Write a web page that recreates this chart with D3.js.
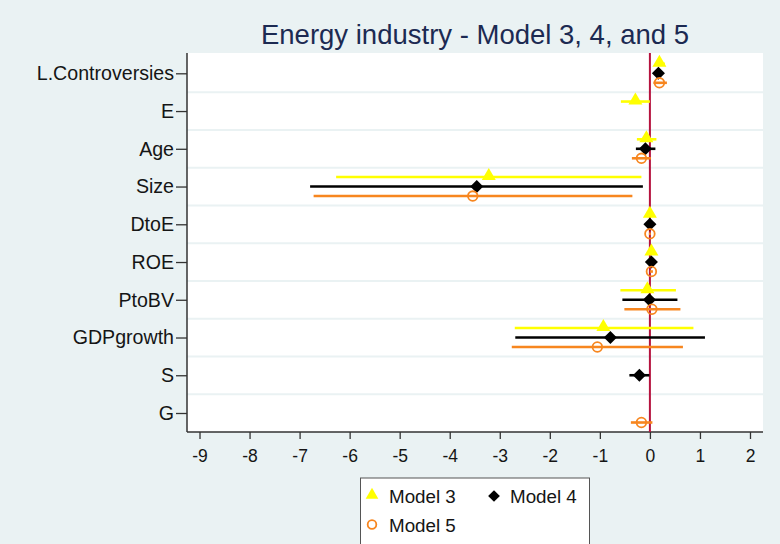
<!DOCTYPE html>
<html>
<head>
<meta charset="utf-8">
<script src="https://cdn.jsdelivr.net/npm/d3@7"></script>
<style>
  html, body { margin: 0; padding: 0; background: #eaf2f3; }
  svg { display: block; font-family: "Liberation Sans", Arial, sans-serif; }
</style>
</head>
<body>
<svg id="chart" width="780" height="544"></svg>
<script>
// Coefficient plot: point estimates with confidence intervals per variable and model
const variables = ["L.Controversies", "E", "Age", "Size", "DtoE", "ROE", "PtoBV", "GDPgrowth", "S", "G"];
const xTicks = [-9, -8, -7, -6, -5, -4, -3, -2, -1, 0, 1, 2];

// [variable, estimate, lower, upper]
const model3 = [
  ["L.Controversies", 0.19, 0.14, 0.30],
  ["E", -0.29, -0.58, 0.0],
  ["Age", -0.07, -0.26, 0.13],
  ["Size", -3.22, -6.27, -0.17],
  ["DtoE", 0.0, -0.02, 0.02],
  ["ROE", 0.03, 0.01, 0.05],
  ["PtoBV", -0.05, -0.59, 0.52],
  ["GDPgrowth", -0.93, -2.70, 0.87]
];
const model4 = [
  ["L.Controversies", 0.17, 0.10, 0.25],
  ["Age", -0.09, -0.28, 0.11],
  ["Size", -3.46, -6.79, -0.14],
  ["DtoE", 0.0, -0.02, 0.02],
  ["ROE", 0.03, 0.01, 0.05],
  ["PtoBV", -0.01, -0.55, 0.55],
  ["GDPgrowth", -0.79, -2.69, 1.10],
  ["S", -0.21, -0.41, -0.01]
];
const model5 = [
  ["L.Controversies", 0.19, 0.07, 0.34],
  ["Age", -0.17, -0.36, 0.02],
  ["Size", -3.54, -6.72, -0.35],
  ["DtoE", 0.0, -0.02, 0.02],
  ["ROE", 0.03, 0.0, 0.06],
  ["PtoBV", 0.04, -0.51, 0.61],
  ["GDPgrowth", -1.05, -2.76, 0.66],
  ["G", -0.17, -0.38, 0.05]
];

const series = [
  { name: "Model 3", data: model3, color: "#ffff00", shape: "triangle", offset: -9.5 },
  { name: "Model 4", data: model4, color: "#000000", shape: "diamond", offset: 0 },
  { name: "Model 5", data: model5, color: "#f7861f", shape: "circle", offset: 9.5 }
];

const svg = d3.select("#chart");
const plot = { left: 187, right: 763, top: 53, bottom: 432 };
const labelFont = "Liberation Sans, Arial, sans-serif";

const x = d3.scaleLinear().domain([-9.25, 2.26]).range([plot.left, plot.right]);
const y = d3.scalePoint().domain(variables).range([73.3, 413]);

// plot region
svg.append("rect")
  .attr("x", plot.left).attr("y", plot.top)
  .attr("width", plot.right - plot.left).attr("height", plot.bottom - plot.top)
  .attr("fill", "#ffffff");

// horizontal separators between variables
const step = y.step();
svg.append("g").selectAll("line")
  .data(variables.slice(0, -1))
  .join("line")
  .attr("x1", plot.left).attr("x2", plot.right)
  .attr("y1", d => y(d) + step / 2).attr("y2", d => y(d) + step / 2)
  .attr("stroke", "#eaf2f3").attr("stroke-width", 2);

// title
svg.append("text")
  .attr("x", 475).attr("y", 43.5)
  .attr("text-anchor", "middle")
  .attr("font-size", 27.5)
  .attr("fill", "#1c2a52")
  .text("Energy industry - Model 3, 4, and 5");

// y axis
const yAxis = svg.append("g")
  .attr("transform", `translate(${plot.left},0)`)
  .call(d3.axisLeft(y).tickSize(11).tickPadding(2));
yAxis.select(".domain").attr("stroke", "#333").attr("stroke-width", 1.5)
  .attr("d", `M0,${plot.top}V${plot.bottom}`);
yAxis.selectAll(".tick line").attr("stroke", "#333").attr("stroke-width", 1.3);
yAxis.selectAll(".tick text")
  .attr("font-size", 19.6).attr("fill", "#151515")
  .attr("font-family", labelFont);

// x axis
const xAxis = svg.append("g")
  .attr("transform", `translate(0,${plot.bottom})`)
  .call(d3.axisBottom(x).tickValues(xTicks).tickFormat(d3.format("d")).tickSize(7).tickPadding(11));
xAxis.select(".domain").attr("stroke", "#333").attr("stroke-width", 1.5)
  .attr("d", `M${plot.left},0H${plot.right}`);
xAxis.selectAll(".tick line").attr("stroke", "#333").attr("stroke-width", 1.3);
xAxis.selectAll(".tick text")
  .attr("font-size", 17.5).attr("fill", "#151515")
  .attr("font-family", labelFont)
  .text(d => d < 0 ? "-" + Math.abs(d) : d);

// reference line at zero
svg.append("line")
  .attr("x1", x(0)).attr("x2", x(0))
  .attr("y1", plot.top).attr("y2", plot.bottom)
  .attr("stroke", "#b5123e").attr("stroke-width", 2);

function drawMarker(g, s, cx, cy, scale = 1) {
  if (s.shape === "circle") {
    g.append("circle").attr("cx", cx).attr("cy", cy).attr("r", 4.8 * scale)
      .attr("fill", "none").attr("stroke", s.color).attr("stroke-width", 1.8);
  } else if (s.shape === "diamond") {
    g.append("path").attr("d", d3.symbol().type(d3.symbolSquare).size(85 * scale * scale)())
      .attr("transform", `translate(${cx},${cy}) rotate(45)`)
      .attr("fill", s.color);
  } else {
    g.append("path").attr("d", d3.symbol().type(d3.symbolTriangle).size(85 * scale * scale)())
      .attr("transform", `translate(${cx},${cy - 1})`)
      .attr("fill", s.color);
  }
}

// confidence intervals and estimates
series.forEach(s => {
  svg.append("g").selectAll("line")
    .data(s.data)
    .join("line")
    .attr("x1", d => x(d[2])).attr("x2", d => x(d[3]))
    .attr("y1", d => y(d[0]) + s.offset).attr("y2", d => y(d[0]) + s.offset)
    .attr("stroke", s.color).attr("stroke-width", 2.6);
});
series.forEach(s => {
  const g = svg.append("g");
  s.data.forEach(d => drawMarker(g, s, x(d[1]), y(d[0]) + s.offset));
});

// legend
const lg = svg.append("g");
lg.append("rect")
  .attr("x", 360.5).attr("y", 478).attr("width", 229).attr("height", 76)
  .attr("fill", "#ffffff").attr("stroke", "#555").attr("stroke-width", 1);
const legendPos = [
  { mx: 372, my: 496, tx: 389 },
  { mx: 494, my: 496, tx: 510 },
  { mx: 372, my: 524.5, tx: 389 }
];
series.forEach((s, i) => {
  const p = legendPos[i];
  drawMarker(lg, s, p.mx, p.my, 0.9);
  lg.append("text")
    .attr("x", p.tx).attr("y", p.my + 7.3)
    .attr("font-size", 18.8).attr("fill", "#151515")
    .text(s.name);
});
</script>
</body>
</html>
